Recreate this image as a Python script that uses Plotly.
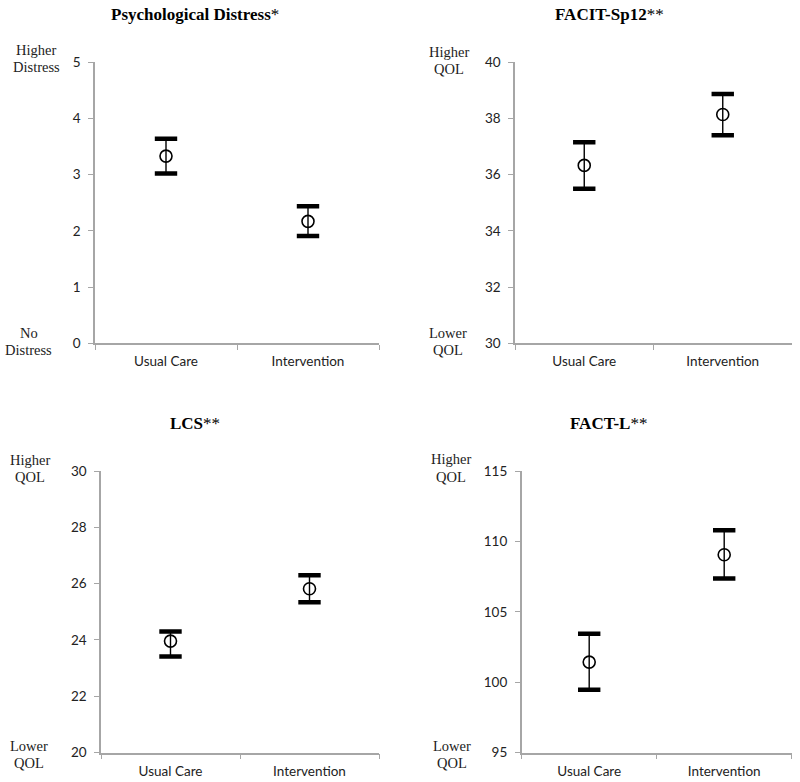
import plotly.graph_objects as go

W, H = 800, 782
# The page capture adds ~8px at the top and squeezes height by ~0.979;
# positions below are given in reference-picture pixels and mapped through this.
YOFF, YSCALE = 8, 0.979

categories = ["Usual Care", "Intervention"]

titles = ["<b>Psychological Distress</b>*", "<b>FACIT-Sp12</b>**", "<b>LCS</b>**", "<b>FACT-L</b>**"]

distress_mean = [3.33, 2.17]
distress_upper = [3.64, 2.44]
distress_lower = [3.02, 1.91]

facit_mean = [36.33, 38.14]
facit_upper = [37.15, 38.87]
facit_lower = [35.50, 37.40]

lcs_mean = [23.96, 25.82]
lcs_upper = [24.30, 26.30]
lcs_lower = [23.41, 25.34]

factl_mean = [101.43, 109.06]
factl_upper = [103.44, 110.79]
factl_lower = [99.46, 107.37]

y_ranges = [[0, 5], [30, 40], [20, 30], [95, 115]]
y_dticks = [1, 2, 2, 5]
top_labels = [["Higher", "Distress"], ["Higher", "QOL"], ["Higher", "QOL"], ["Higher", "QOL"]]
bottom_labels = [["No", "Distress"], ["Lower", "QOL"], ["Lower", "QOL"], ["Lower", "QOL"]]

series = [
    (distress_mean, distress_upper, distress_lower),
    (facit_mean, facit_upper, facit_lower),
    (lcs_mean, lcs_upper, lcs_lower),
    (factl_mean, factl_upper, factl_lower),
]

# reference-pixel layout of each panel: (x0, x1, ytop, ybottom)
panels = [
    (95, 379, 62, 343),
    (515, 792, 62, 343),
    (101, 379, 470.7, 752),
    (521.7, 791.7, 470.7, 752),
]
title_pos = [(195, 14), (609, 14), (195, 423), (608, 423)]
# (x center, first line y, second line y)
top_lab_pos = [(36, 50, 67), (449, 52, 69), (30, 460, 477), (451, 459, 477)]
bot_lab_pos = [(29, 333, 350), (448, 333, 350), (29, 745, 762), (452, 745, 762)]


def py(v):
    return 1 - (v / YSCALE - YOFF) / H


fig = go.Figure()
layout = {}
annotations = []
tickfont = dict(family="Lato, Carlito, sans-serif", size=13.5, color="#222")
labfont = dict(family="Liberation Serif, serif", size=14.5, color="#222")


def paper_text(text, px, pyv, font):
    return dict(text=text, x=px / W, y=py(pyv), xref="paper", yref="paper",
                showarrow=False, xanchor="center", yanchor="middle", font=font)


for i, ((mean, up, lo), (x0, x1, yt, yb)) in enumerate(zip(series, panels)):
    n = i + 1
    xa = "x" if n == 1 else f"x{n}"
    ya = "y" if n == 1 else f"y{n}"
    err_p = [u - m for u, m in zip(up, mean)]
    err_m = [m - l for m, l in zip(mean, lo)]
    fig.add_trace(go.Scatter(
        x=categories, y=mean, mode="markers", xaxis=xa, yaxis=ya,
        marker=dict(symbol="circle-open", size=12, color="black", line=dict(width=1.6)),
        error_y=dict(type="data", symmetric=False, array=err_p, arrayminus=err_m,
                     thickness=1.4, width=0, color="black"),
        showlegend=False, hoverinfo="skip",
    ))
    fig.add_trace(go.Scatter(
        x=categories + categories, y=up + lo, mode="markers", xaxis=xa, yaxis=ya,
        marker=dict(symbol="line-ew", size=16, color="black", line=dict(width=4.5, color="black")),
        showlegend=False, hoverinfo="skip",
    ))
    xkey = "xaxis" if n == 1 else f"xaxis{n}"
    ykey = "yaxis" if n == 1 else f"yaxis{n}"
    layout[xkey] = dict(
        domain=[x0 / W, x1 / W], anchor=ya, type="category",
        range=[-0.5, 1.5], tickson="boundaries", ticks="outside", ticklen=5,
        tickcolor="#a6a6a6", tickwidth=1.2, showline=True, linecolor="#a6a6a6",
        linewidth=1.5, showgrid=False, zeroline=False, tickfont=tickfont,
        ticklabelstandoff=5,
    )
    layout[ykey] = dict(
        domain=[py(yb), py(yt)], anchor=xa, range=y_ranges[i],
        dtick=y_dticks[i], tick0=y_ranges[i][0], ticks="outside", ticklen=5,
        tickcolor="#a6a6a6", tickwidth=1.2, showline=True, linecolor="#a6a6a6",
        linewidth=1.5, showgrid=False, zeroline=False, tickfont=tickfont,
        ticklabelstandoff=5,
    )
    tx, ty = title_pos[i]
    annotations.append(paper_text(titles[i], tx, ty,
                                  dict(family="Liberation Serif, serif", size=17, color="black")))
    lx, ly1, ly2 = top_lab_pos[i]
    annotations.append(paper_text(top_labels[i][0], lx, ly1, labfont))
    annotations.append(paper_text(top_labels[i][1], lx, ly2, labfont))
    bx, by1, by2 = bot_lab_pos[i]
    annotations.append(paper_text(bottom_labels[i][0], bx, by1, labfont))
    annotations.append(paper_text(bottom_labels[i][1], bx, by2, labfont))

fig.update_layout(
    width=W, height=H, margin=dict(l=0, r=0, t=0, b=0),
    paper_bgcolor="white", plot_bgcolor="white",
    annotations=annotations, **layout,
)

page_css = ("}); document.documentElement.style.margin='0px';"
            "document.body.style.margin='0px'; document.body.style.padding='0px';"
            "(function(){")

fig.write_html("out.html", config={"displayModeBar": False}, post_script=page_css)
